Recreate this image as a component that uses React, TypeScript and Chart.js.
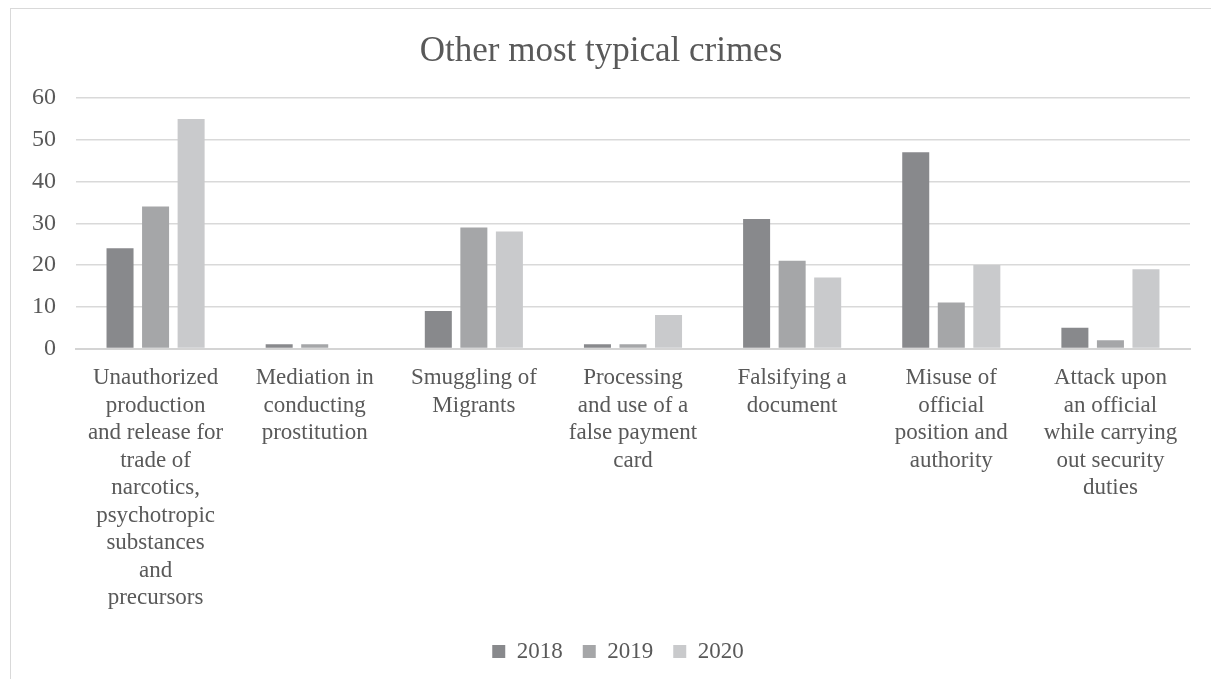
import React, { useEffect, useRef } from "react";
import { Chart, registerables } from "chart.js";

Chart.register(...registerables);

const categories: string[][] = [
  ["Unauthorized", "production", "and release for", "trade of", "narcotics,", "psychotropic", "substances", "and", "precursors"],
  ["Mediation in", "conducting", "prostitution"],
  ["Smuggling of", "Migrants"],
  ["Processing", "and use of a", "false payment", "card"],
  ["Falsifying a", "document"],
  ["Misuse of", "official", "position and", "authority"],
  ["Attack upon", "an official", "while carrying", "out security", "duties"],
];

const seriesNames = ["2018", "2019", "2020"];
const values2018 = [24, 1, 9, 1, 31, 47, 5];
const values2019 = [34, 1, 29, 1, 21, 11, 2];
const values2020 = [55, 0, 28, 8, 17, 20, 19];
const seriesColors = ["#88898c", "#a5a6a8", "#c9cacc"];
const yTicks = [0, 10, 20, 30, 40, 50, 60];

const FONT = "'Liberation Serif', 'Times New Roman', serif";
const TEXT = "#595959";

const legendShift = {
  id: "legendShift",
  afterLayout(chart: any) {
    const lg = chart.legend;
    if (lg) {
      lg.left += 17;
      lg.right += 17;
    }
  },
};

export default function App() {
  const ref = useRef<HTMLCanvasElement | null>(null);

  useEffect(() => {
    if (!ref.current) return;
    const data = [values2018, values2019, values2020];
    const chart = new Chart(ref.current, {
      type: "bar",
      data: {
        labels: categories,
        datasets: seriesNames.map((name, i) => ({
          label: name,
          data: data[i],
          backgroundColor: seriesColors[i],
          borderWidth: 0,
          categoryPercentage: 0.67,
          barPercentage: 0.76,
        })),
      },
      plugins: [legendShift],
      options: {
        responsive: false,
        animation: false,
        devicePixelRatio: 1,
        layout: { padding: { left: 12, right: 21, top: 0, bottom: 6 } },
        plugins: {
          tooltip: { enabled: false },
          title: {
            display: true,
            text: "Other most typical crimes",
            color: TEXT,
            font: { family: FONT, size: 35, weight: "normal" },
            padding: { top: 31, bottom: 25 },
          },
          legend: {
            position: "bottom",
            labels: {
              color: TEXT,
              font: { family: FONT, size: 23 },
              boxWidth: 13,
              boxHeight: 13,
              padding: 20,
            },
          },
        },
        scales: {
          x: {
            grid: { display: false },
            border: { display: true, color: "#d4d4d4", width: 2 },
            ticks: {
              color: TEXT,
              font: { family: FONT, size: 23, lineHeight: "27.5px" },
              maxRotation: 0,
              minRotation: 0,
              autoSkip: false,
              padding: 8,
            },
          },
          y: {
            min: 0,
            max: 60,
            afterBuildTicks: (axis: any) => {
              axis.ticks = yTicks.map((v) => ({ value: v }));
            },
            grid: { color: "#d9d9d9", lineWidth: 1.5, drawTicks: false },
            border: { display: false },
            ticks: {
              color: TEXT,
              font: { family: FONT, size: 24 },
              padding: 20,
            },
          },
        },
      },
    });
    return () => chart.destroy();
  }, []);

  return (
    <div style={{ position: "fixed", left: 0, top: 0, width: 1211, height: 679, overflow: "hidden", background: "#fff" }}>
      <div
        style={{
          position: "absolute",
          left: 10,
          top: 8,
          width: 1300,
          height: 800,
          border: "1.5px solid #d9d9d9",
          boxSizing: "border-box",
        }}
      />
      <canvas ref={ref} width={1211} height={679} style={{ position: "absolute", left: 0, top: 0 }} />
    </div>
  );
}
